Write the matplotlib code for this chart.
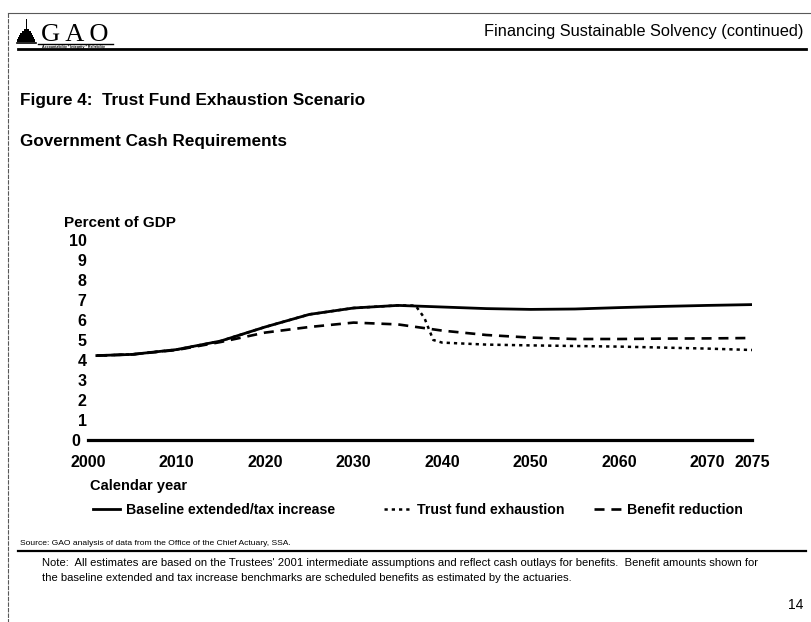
import matplotlib
matplotlib.use("Agg")
import matplotlib.pyplot as plt
import matplotlib.transforms as mtransforms
from matplotlib.lines import Line2D
from matplotlib.patches import Polygon

W, H = 812, 622

years = [2001, 2005, 2010, 2015, 2020, 2025, 2030, 2035, 2040, 2045, 2050,
         2055, 2060, 2065, 2070, 2075]
baseline = [4.22, 4.28, 4.52, 4.95, 5.65, 6.28, 6.60, 6.73, 6.65, 6.57, 6.53,
            6.55, 6.62, 6.68, 6.73, 6.77]
benefit_cut = [4.22, 4.28, 4.50, 4.90, 5.37, 5.65, 5.87, 5.78, 5.47, 5.25, 5.12,
               5.05, 5.05, 5.07, 5.08, 5.10]
# trust fund runs dry in 2038: outlays fall to what payroll taxes cover
tf_years = [2001, 2005, 2010, 2015, 2020, 2025, 2030, 2035, 2037, 2038, 2039,
            2040, 2045, 2050, 2055, 2060, 2065, 2070, 2075]
tf_exhaust = [4.22, 4.28, 4.52, 4.95, 5.65, 6.28, 6.60, 6.73, 6.72, 6.10, 5.00,
              4.87, 4.77, 4.73, 4.70, 4.67, 4.62, 4.57, 4.50]

xticks = [2000, 2010, 2020, 2030, 2040, 2050, 2060, 2070, 2075]
yticks = list(range(0, 11))
series_names = ['Baseline extended/tax increase', 'Trust fund exhaustion', 'Benefit reduction']

plt.rcParams['font.family'] = ['Liberation Sans', 'DejaVu Sans']

fig = plt.figure(figsize=(W / 100, H / 100), dpi=100)
# pixel coordinates, origin top-left
px = mtransforms.Affine2D().scale(1 / W, -1 / H).translate(0, 1) + fig.transFigure

# page border and header
fig.add_artist(Line2D([8, W], [13, 13], transform=px, color='0.35', lw=0.8))
fig.add_artist(Line2D([8, 8], [13, H], transform=px, color='0.35', lw=0.8, ls=(0, (4, 1))))
fig.add_artist(Line2D([18, 806], [49, 49], transform=px, color='black', lw=2.0))

# little capitol dome
steps = [(26, 19, 27, 29), (24, 29, 29, 31), (22, 31, 31, 33), (20, 33, 32, 35),
         (19, 35, 33, 37), (18, 37, 34, 39), (17, 39, 35, 42)]
for x0, y0, x1, y1 in steps:
    fig.add_artist(Polygon([(x0, y1), (x1, y1), (x1, y0), (x0, y0)], closed=True,
                           transform=px, color='black', lw=0))
fig.add_artist(Line2D([17, 36], [43, 43], transform=px, color='black', lw=1.2))
fig.text(41, 41, 'G A O', transform=px, family=['Liberation Serif', 'DejaVu Serif'],
         fontsize=19, ha='left', va='baseline')
fig.add_artist(Line2D([38, 113], [43.5, 43.5], transform=px, color='black', lw=1.0))
fig.text(42, 48, 'Accountability * Integrity * Reliability', transform=px,
         fontsize=2.6, fontweight='bold', ha='left', va='baseline')

fig.text(803, 36, 'Financing Sustainable Solvency (continued)', transform=px,
         fontsize=11.8, ha='right', va='baseline')
fig.text(20, 105, 'Figure 4:  Trust Fund Exhaustion Scenario', transform=px,
         fontsize=12.3, fontweight='bold', ha='left', va='baseline')
fig.text(20, 146, 'Government Cash Requirements', transform=px,
         fontsize=12.3, fontweight='bold', ha='left', va='baseline')
fig.text(64, 227, 'Percent of GDP', transform=px,
         fontsize=11, fontweight='bold', ha='left', va='baseline')

# plot area: 2000..2075 across, 0..10 up
left, right, top, bottom = 88, 752, 240, 440
ax = fig.add_axes([left / W, 1 - bottom / H, (right - left) / W, (bottom - top) / H])
ax.set_xlim(2000, 2075)
ax.set_ylim(0, 10)
for s in ax.spines.values():
    s.set_visible(False)
ax.axhline(0, color='black', lw=2.3, clip_on=False)

l_tf, = ax.plot(tf_years, tf_exhaust, color='black', lw=1.8, ls=(0, (1.3, 1.6)))
l_br, = ax.plot(years, benefit_cut, color='black', lw=1.9, ls=(0, (3.8, 2.6)))
l_bl, = ax.plot(years, baseline, color='black', lw=2.0)

ax.set_xticks(xticks)
ax.set_xticklabels([str(t) for t in xticks], fontsize=11.5, fontweight='bold')
ax.set_yticks(yticks)
ax.set_yticklabels([str(t) for t in yticks], fontsize=11.5, fontweight='bold')
ax.tick_params(length=0)
ax.tick_params(axis='y', pad=1)
ax.tick_params(axis='x', pad=11)
# the zero label sits a little further left
zero_lab = ax.get_yticklabels()[0]
zero_lab.set_transform(zero_lab.get_transform()
                       + mtransforms.ScaledTranslation(-6 / 100, 0, fig.dpi_scale_trans))

fig.text(90, 490, 'Calendar year', transform=px,
         fontsize=10.5, fontweight='bold', ha='left', va='baseline')

# one legend entry each, spaced out along the bottom
for handle, name, x0 in zip([l_bl, l_tf, l_br], series_names, [93, 384, 594]):
    lg = fig.legend([handle], [name], loc='center left',
                    bbox_to_anchor=(x0 / W, 1 - 510 / H), frameon=False,
                    borderpad=0, borderaxespad=0, handlelength=1.9, handletextpad=0.45,
                    prop={'weight': 'bold', 'size': 10.2})

# source line and notes
fig.text(20, 545, 'Source: GAO analysis of data from the Office of the Chief Actuary, SSA.',
         transform=px, fontsize=6.1, ha='left', va='baseline')
fig.add_artist(Line2D([18, 806], [551, 551], transform=px, color='black', lw=1.6))
fig.text(42, 566, "Note:  All estimates are based on the Trustees' 2001 intermediate assumptions "
         "and reflect cash outlays for benefits.  Benefit amounts shown for",
         transform=px, fontsize=8.1, ha='left', va='baseline')
fig.text(42, 581, 'the baseline extended and tax increase benchmarks are scheduled benefits '
         'as estimated by the actuaries.',
         transform=px, fontsize=8.1, ha='left', va='baseline')
fig.text(803, 609, '14', transform=px, fontsize=10, ha='right', va='baseline')

fig.savefig('out.png', dpi=100)
